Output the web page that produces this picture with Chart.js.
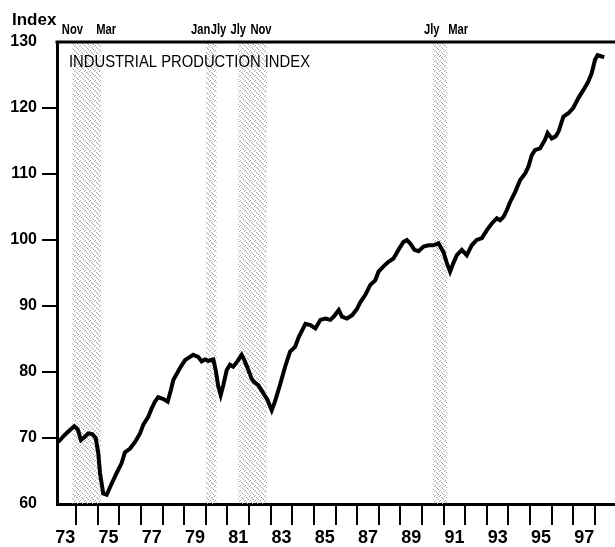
<!DOCTYPE html>
<html>
<head>
<meta charset="utf-8">
<script src="https://cdn.jsdelivr.net/npm/chart.js@4"></script>
<style>
html, body { margin: 0; padding: 0; background: #fff; }
</style>
</head>
<body>
<canvas id="ipChart" width="615" height="547"></canvas>
<script>
// industrial production index (1992 = 100)
const years = [
    1973.18, 1973.49, 1973.72, 1973.92, 1974.08, 1974.23, 1974.41, 1974.57, 1974.75, 1974.91,
    1975.03, 1975.11, 1975.26, 1975.42, 1975.65, 1975.88, 1976.11, 1976.26, 1976.50, 1976.73,
    1976.96, 1977.11, 1977.34, 1977.50, 1977.65, 1977.80, 1978.04, 1978.24, 1978.39, 1978.50,
    1978.81, 1979.04, 1979.42, 1979.65, 1979.81, 1979.96, 1980.12, 1980.35, 1980.46, 1980.58,
    1980.69, 1980.81, 1980.97, 1981.12, 1981.27, 1981.46, 1981.66, 1981.81, 1981.97, 1982.12,
    1982.23, 1982.43, 1982.66, 1982.85, 1983.05, 1983.20, 1983.43, 1983.67, 1983.90, 1984.13,
    1984.30, 1984.61, 1984.84, 1985.07, 1985.30, 1985.53, 1985.76, 1985.92, 1986.15, 1986.30,
    1986.53, 1986.77, 1987.00, 1987.15, 1987.38, 1987.61, 1987.84, 1987.99, 1988.22, 1988.45,
    1988.68, 1988.91, 1989.14, 1989.30, 1989.45, 1989.65, 1989.84, 1990.07, 1990.30, 1990.53,
    1990.76, 1990.99, 1991.15, 1991.30, 1991.45, 1991.61, 1991.84, 1992.07, 1992.30, 1992.53,
    1992.77, 1993.00, 1993.23, 1993.46, 1993.61, 1993.77, 1993.92, 1994.08, 1994.31, 1994.54,
    1994.77, 1994.92, 1995.07, 1995.22, 1995.46, 1995.69, 1995.81, 1996.00, 1996.18, 1996.31,
    1996.54, 1996.77, 1996.99, 1997.23, 1997.46, 1997.69, 1997.85, 1998.00, 1998.12, 1998.31,
    1998.43
];
const index = [
    69.4, 70.5, 71.2, 71.8, 71.3, 69.7, 70.2, 70.7, 70.6, 70.0,
    67.7, 64.7, 61.6, 61.4, 63.1, 64.7, 66.2, 67.8, 68.4, 69.4,
    70.7, 72.0, 73.2, 74.5, 75.5, 76.2, 75.9, 75.5, 77.3, 78.8,
    80.6, 81.8, 82.6, 82.3, 81.6, 81.9, 81.7, 81.9, 80.3, 77.8,
    76.5, 78.0, 80.3, 81.1, 80.8, 81.6, 82.6, 81.6, 80.3, 79.0,
    78.5, 78.0, 76.8, 75.8, 74.2, 75.5, 78.0, 80.8, 83.1, 83.8,
    85.3, 87.3, 87.1, 86.6, 87.9, 88.1, 87.9, 88.4, 89.4, 88.4,
    88.1, 88.6, 89.6, 90.6, 91.7, 93.2, 93.9, 95.2, 96.0, 96.7,
    97.2, 98.5, 99.7, 100.0, 99.5, 98.5, 98.3, 99.0, 99.2, 99.2,
    99.5, 98.2, 96.5, 95.2, 96.5, 97.7, 98.5, 97.7, 99.2, 100.0,
    100.3, 101.5, 102.5, 103.3, 103.0, 103.5, 104.5, 105.8, 107.3, 109.1,
    110.1, 111.1, 112.8, 113.6, 113.9, 115.2, 116.2, 115.4, 115.7, 116.4,
    118.7, 119.2, 120.0, 121.5, 122.7, 124.0, 125.3, 127.3, 128.0, 127.8,
    127.7
];
const yTicks = [60, 70, 80, 90, 100, 110, 120, 130];
const yearTicks = [1974, 1975, 1976, 1977, 1978, 1979, 1980, 1981, 1982, 1983, 1984, 1985,
    1986, 1987, 1988, 1989, 1990, 1991, 1992, 1993, 1994, 1995, 1996, 1997, 1998];
// recessions: start, end (fractional years)
const recessionStart = [1973.833, 1980.0, 1981.5, 1990.5];
const recessionEnd = [1975.167, 1980.5, 1982.833, 1991.167];
const startLabels = ["Nov", "Jan", "Jly", "Jly"];
const endLabels = ["Mar", "Jly", "Nov", "Mar"];

const points = years.map((y, i) => ({ x: y, y: index[i] }));

// small pixel nudges so the month names sit like the printed ones
const startShift = [0, -5, 0, -1];
const endShift = [5, 2, -6, 11];

function stipple() {
    const c = document.createElement("canvas");
    c.width = 5; c.height = 5;
    const g = c.getContext("2d");
    g.fillStyle = "#a8a8a8";
    [[0, 0], [2, 3], [4, 1], [1, 2], [3, 4]].forEach(p => g.fillRect(p[0], p[1], 1, 1));
    return g.createPattern(c, "repeat");
}

// draws text squeezed horizontally (condensed look)
function squeezed(ctx, text, x, y, sx) {
    ctx.save();
    ctx.translate(x, y);
    ctx.scale(sx, 1);
    ctx.fillText(text, 0, 0);
    ctx.restore();
}

const bandsPlugin = {
    id: "bands",
    beforeDatasetsDraw(chart) {
        const { ctx, chartArea, scales } = chart;
        ctx.save();
        ctx.fillStyle = stipple();
        recessionStart.forEach((s, i) => {
            const x0 = scales.x.getPixelForValue(s);
            const x1 = scales.x.getPixelForValue(recessionEnd[i]);
            ctx.fillRect(x0, chartArea.top, x1 - x0, chartArea.bottom - chartArea.top);
        });
        ctx.fillStyle = "#000";
        ctx.font = "17px 'Liberation Sans', Arial, sans-serif";
        ctx.textBaseline = "alphabetic";
        ctx.textAlign = "left";
        const title = "INDUSTRIAL PRODUCTION INDEX";
        const w = ctx.measureText(title).width;
        squeezed(ctx, title, chartArea.left + 12, chartArea.top + 25, 241 / w);
        ctx.restore();
    },
    afterDraw(chart) {
        const { ctx, chartArea, scales } = chart;
        ctx.save();
        ctx.strokeStyle = "#000";
        ctx.lineWidth = 3;
        ctx.beginPath();
        ctx.moveTo(chartArea.left - 1.5, chartArea.top);
        ctx.lineTo(chartArea.right, chartArea.top);
        ctx.stroke();

        ctx.fillStyle = "#000";
        ctx.textBaseline = "alphabetic";
        ctx.font = "bold 17px 'Liberation Sans', Arial, sans-serif";
        ctx.textAlign = "left";
        ctx.fillText("Index", 12, 25);

        ctx.font = "bold 14px 'Liberation Sans', Arial, sans-serif";
        ctx.textAlign = "center";
        recessionStart.forEach((s, i) => {
            squeezed(ctx, startLabels[i], scales.x.getPixelForValue(s) + startShift[i], chartArea.top - 8, 0.8);
            squeezed(ctx, endLabels[i], scales.x.getPixelForValue(recessionEnd[i]) + endShift[i], chartArea.top - 8, 0.8);
        });
        ctx.restore();
    }
};

const ctx = document.getElementById("ipChart").getContext("2d");
new Chart(ctx, {
    type: "line",
    data: {
        datasets: [{
            data: points,
            borderColor: "#000",
            borderWidth: 4,
            pointRadius: 0,
            tension: 0,
            fill: false
        }]
    },
    options: {
        responsive: false,
        animation: false,
        layout: { padding: { top: 42, right: 0, left: 0, bottom: 0 } },
        plugins: { legend: { display: false }, tooltip: { enabled: false } },
        scales: {
            x: {
                type: "linear",
                min: 1973.121,
                max: 1998.925,
                afterBuildTicks: (scale) => { scale.ticks = yearTicks.map(v => ({ value: v })); },
                afterFit: (scale) => { scale.height = 43; scale.paddingLeft = 0; scale.paddingRight = 0; },
                grid: { drawOnChartArea: false, tickLength: 21, color: "#000", lineWidth: 2 },
                border: { display: true, color: "#000", width: 3 },
                ticks: {
                    autoSkip: false,
                    maxRotation: 0,
                    padding: 2,
                    labelOffset: -10.8,
                    color: "#000",
                    font: { family: "'Liberation Sans', Arial, sans-serif", size: 18, weight: "bold" },
                    callback: (v) => ((v - 1) % 2 === 1 ? String(v - 1).slice(2) : "")
                }
            },
            y: {
                min: 60,
                max: 130,
                afterBuildTicks: (scale) => { scale.ticks = yTicks.map(v => ({ value: v })); },
                afterFit: (scale) => { scale.width = 57; },
                grid: {
                    drawOnChartArea: false,
                    tickLength: 15,
                    lineWidth: 2,
                    color: (c) => (c.tick && (c.tick.value === 60 || c.tick.value === 130) ? "rgba(0,0,0,0)" : "#000")
                },
                border: { display: true, color: "#000", width: 3 },
                ticks: {
                    padding: 5,
                    color: "#000",
                    font: { family: "'Liberation Sans', Arial, sans-serif", size: 16, weight: "bold" }
                }
            }
        }
    },
    plugins: [bandsPlugin]
});
</script>
</body>
</html>
